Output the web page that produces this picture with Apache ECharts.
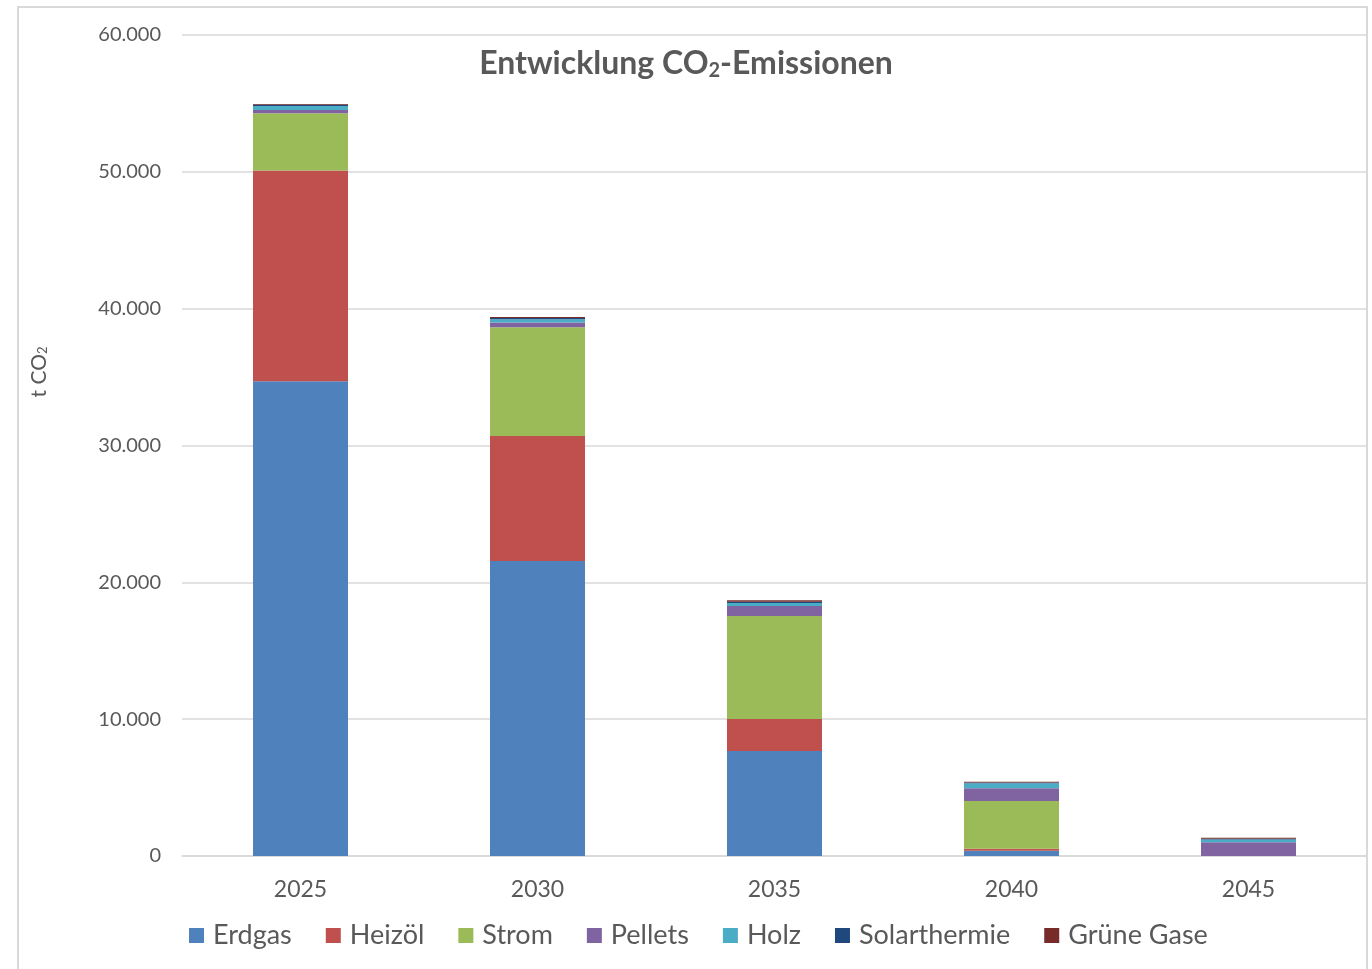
<!DOCTYPE html>
<html>
<head>
<meta charset="utf-8">
<script src="https://cdn.jsdelivr.net/npm/echarts@6/dist/echarts.min.js"></script>
<style>
html,body{margin:0;padding:0;background:#fff;}
#chart{width:1372px;height:969px;}
</style>
</head>
<body>
<div id="chart"></div>
<script>
const categories = ['2025', '2030', '2035', '2040', '2045'];
const erdgas = [34700, 21560, 7670, 380, 0];
const heizoel = [15400, 9140, 2340, 150, 0];
const strom = [4180, 7940, 7530, 3490, 0];
const pellets = [240, 340, 730, 930, 1000];
const holz = [300, 250, 220, 370, 200];
const solarthermie = [80, 80, 100, 60, 60];
const grueneGase = [60, 80, 100, 50, 80];
const yTicks = [0, 10000, 20000, 30000, 40000, 50000, 60000];

const seriesNames = ['Erdgas', 'Heizöl', 'Strom', 'Pellets', 'Holz', 'Solarthermie', 'Grüne Gase'];
const seriesData = [erdgas, heizoel, strom, pellets, holz, solarthermie, grueneGase];
const colors = ['#4F81BD', '#C0504D', '#9BBB59', '#8064A2', '#4BACC6', '#1F497D', '#772C2A'];
const font = 'Lato, "Open Sans", sans-serif';

const chart = echarts.init(document.getElementById('chart'));
chart.setOption({
  animation: false,
  color: colors,
  title: {
    text: 'Entwicklung CO{sub|2}-Emissionen',
    left: 681, top: 42, textAlign: 'center',
    textStyle: {
      fontFamily: font, fontWeight: 'bold', fontSize: 32, color: '#595959',
      rich: { sub: { fontFamily: font, fontWeight: 'bold', fontSize: 20, color: '#595959', verticalAlign: 'bottom', padding: [14, 0, 0, 0] } }
    }
  },
  graphic: [{
    type: 'rect', shape: { x: 18, y: 7, width: 1349, height: 980 },
    style: { fill: 'none', stroke: '#d9d9d9', lineWidth: 2 }, silent: true
  }, {
    type: 'text', x: 39, y: 372, rotation: Math.PI / 2,
    style: {
      text: 't CO{sub|2}', fontFamily: font, fontSize: 21, fill: '#595959',
      align: 'center', verticalAlign: 'middle',
      rich: { sub: { fontFamily: font, fontSize: 13, fill: '#595959', padding: [8, 0, 0, 0] } }
    }
  }],
  legend: {
    bottom: 15, left: 184,
    itemWidth: 15, itemHeight: 15, itemGap: 34,
    icon: 'rect',
    textStyle: { fontFamily: font, fontSize: 27, color: '#595959', padding: [0, 0, 0, 4] },
    data: seriesNames
  },
  grid: { left: 182, right: 5, top: 35, bottom: 113, containLabel: false },
  xAxis: {
    type: 'category', data: categories,
    axisTick: { show: false },
    axisLine: { lineStyle: { color: '#d9d9d9', width: 1.5 } },
    axisLabel: { fontFamily: font, fontSize: 23, color: '#595959', margin: 22 }
  },
  yAxis: {
    type: 'value', min: yTicks[0], max: yTicks[yTicks.length - 1], interval: 10000,
    axisLine: { show: false }, axisTick: { show: false },
    splitLine: { lineStyle: { color: '#d9d9d9', width: 1.5 } },
    axisLabel: {
      fontFamily: font, fontSize: 20, color: '#595959', margin: 21,
      formatter: v => String(v).replace(/\B(?=(\d{3})+(?!\d))/g, '.')
    }
  },
  series: seriesNames.map((n, i) => ({
    name: n, type: 'bar', stack: 'total', barWidth: 95,
    data: seriesData[i]
  }))
});
</script>
</body>
</html>
